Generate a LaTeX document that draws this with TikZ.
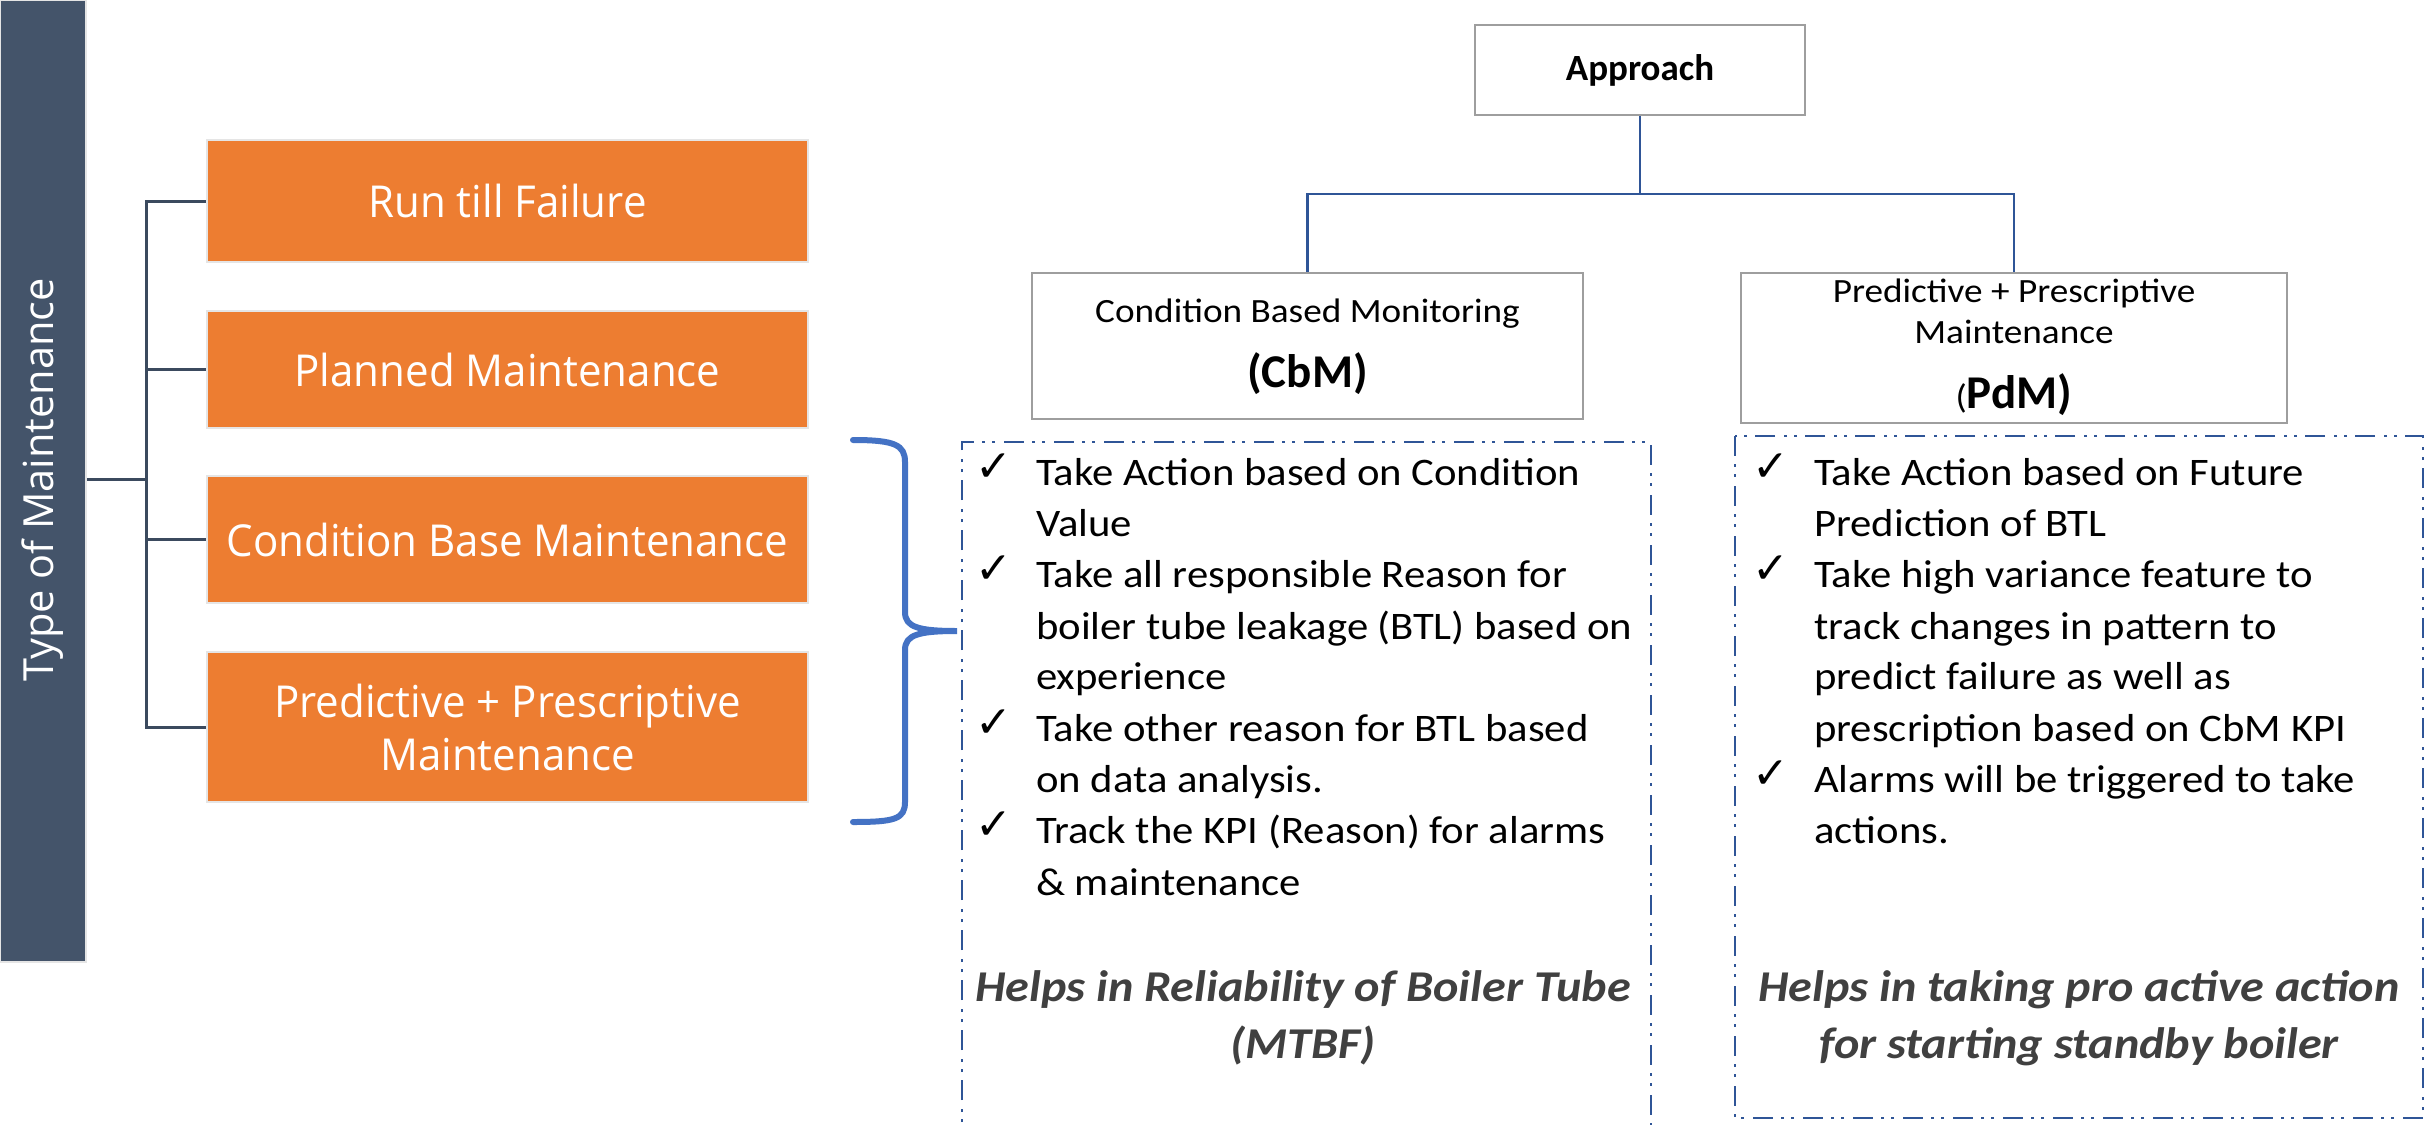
\documentclass[tikz,border=0pt]{standalone}
\usepackage{fontspec}
\setmainfont{Carlito}[FakeStretch=1.095]
\newfontfamily\plainfont{Carlito}
\newfontfamily\segfont{Open Sans}[FakeStretch=0.955]
\newfontfamily\barfont{Open Sans}
\newfontfamily\symfont{DejaVu Sans}
\usetikzlibrary{calc}
\definecolor{barcol}{HTML}{44546A}
\definecolor{orng}{HTML}{ED7D31}
\definecolor{bluec}{HTML}{2F5597}
\definecolor{bracec}{HTML}{4472C4}
\definecolor{italc}{HTML}{404040}
\definecolor{treec}{HTML}{3B4A5E}
\tikzset{
  obox/.style={fill=orng, draw=black!10, line width=2.5pt, minimum width=601pt, text=white,
    font=\segfont\fontsize{44}{53}\selectfont, align=center, inner sep=0pt},
  gbox/.style={draw=black!38, line width=2.5pt, fill=white, inner sep=0pt},
  tree/.style={draw=treec, line width=3pt},
  conn/.style={draw=bluec, line width=2.8pt},
  ddbox/.style={draw=bluec, line width=2.5pt, dash pattern=on 20pt off 8pt on 3pt off 7pt on 3pt off 9pt},
  btxt/.style={anchor=base west, inner sep=0pt, font=\fontsize{39}{51}\selectfont},
  chk/.style={anchor=base west, inner sep=0pt, font=\symfont\bfseries\fontsize{44}{44}\selectfont},
  itx/.style={anchor=base, inner sep=0pt, text=italc, font=\bfseries\itshape\fontsize{44}{58}\selectfont},
  htxt/.style={anchor=base, inner sep=0pt, font=\fontsize{34}{41}\selectfont},
  hbig/.style={anchor=base, inner sep=0pt, font=\plainfont\bfseries\fontsize{47}{47}\selectfont},
}
\begin{document}
\begin{tikzpicture}[x=1pt, y=-1pt]
\useasboundingbox (0,0) rectangle (2432,1124);
\fill[white] (0,0) rectangle (2432,1124);

% left bar
\node[fill=barcol, draw=black!10, line width=2pt, minimum width=86pt, minimum height=962pt, inner sep=0pt] (bar) at (43,481) {};
\node[rotate=90, text=white, inner sep=0pt, font=\barfont\fontsize{41.5}{42}\selectfont] (bartext) at (43,480) {Type of Maintenance};

% orange boxes
\node[obox, minimum height=122pt] (rtf) at (507.5,201) {Run till Failure};
\node[obox, minimum height=117pt] (pm) at (507.5,369.5) {Planned Maintenance};
\node[obox, minimum height=127pt] (cbmx) at (507.5,539.5) {Condition Base Maintenance};
\node[obox, minimum height=150pt] (ppm) at (507.5,727) {Predictive + Prescriptive\\Maintenance};

% tree
\coordinate (trunk) at (146,479);
\draw[tree] (bar.east |- trunk) -- (trunk);
\draw[tree] (rtf.west) -- (rtf.west -| trunk) -- (ppm.west -| trunk) -- (ppm.west);
\draw[tree] (pm.west) -- (pm.west -| trunk);
\draw[tree] (cbmx.west) -- (cbmx.west -| trunk);

% brace
\draw[draw=bracec, line width=6pt, line cap=round]
  (853,440) .. controls (895,440) and (905,445) .. (905,462)
  -- (905,612) .. controls (905,627) and (918,631) .. (957,631)
  .. controls (918,631) and (905,635) .. (905,650)
  -- (905,802) .. controls (905,819) and (895,822) .. (853,822);

% approach tree
\node[gbox, minimum width=330pt, minimum height=90pt, font=\plainfont\bfseries\fontsize{37}{37}\selectfont] (app) at (1640,70) {Approach};
\node[gbox, minimum width=551pt, minimum height=146pt] (cbm) at (1307.5,346) {};
\node[gbox, minimum width=546pt, minimum height=150pt] (pdm) at (2014,348) {};
\coordinate (bus) at (1640,194);
\draw[conn] (app.south) -- (bus);
\draw[conn] (cbm.north) |- (bus) -| (pdm.north);

\node[htxt] (cbm1) at (1307.5,322) {Condition Based Monitoring};
\node[hbig] (cbm2) at (1307.5,387) {(CbM)};
\node[htxt] (pdm1) at (2014,302) {Predictive + Prescriptive};
\node[htxt] (pdm2) at (2014,343) {Maintenance};
\node[anchor=base, inner sep=0pt] (pdm3) at (2014,408) {\fontsize{34}{34}\selectfont(\plainfont\bfseries\fontsize{47}{47}\selectfont PdM)};

% dash-dot boxes
\draw[ddbox] (962,1150) -- (962,442) -- (1651,442) -- (1651,1150);
\draw[ddbox] (1735,436) rectangle (2423,1118);

% left list
\node[chk] (lc1) at (975,481) {✓};
\node[btxt] (l1) at (1036,485) {Take Action based on Condition};
\node[btxt] (l2) at (1036,536) {Value};
\node[chk] (lc2) at (975,583) {✓};
\node[btxt] (l3) at (1036,587) {Take all responsible Reason for};
\node[btxt] (l4) at (1036,639) {boiler tube leakage (BTL) based on};
\node[btxt] (l5) at (1036,689) {experience};
\node[chk] (lc3) at (975,737) {✓};
\node[btxt] (l6) at (1036,741) {Take other reason for BTL based};
\node[btxt] (l7) at (1036,792) {on data analysis.};
\node[chk] (lc4) at (975,839) {✓};
\node[btxt] (l8) at (1036,843) {Track the KPI (Reason) for alarms};
\node[btxt] (l9) at (1036,895) {\& maintenance};
\node[itx] (li1) at (1303,1001) {Helps in Reliability of Boiler Tube};
\node[itx] (li2) at (1303,1058) {(MTBF)};

% right list
\node[chk] (rc1) at (1752,481) {✓};
\node[btxt] (r1) at (1814,485) {Take Action based on Future};
\node[btxt] (r2) at (1814,536) {Prediction of BTL};
\node[chk] (rc2) at (1752,583) {✓};
\node[btxt] (r3) at (1814,587) {Take high variance feature to};
\node[btxt] (r4) at (1814,639) {track changes in pattern to};
\node[btxt] (r5) at (1814,689) {predict failure as well as};
\node[btxt] (r6) at (1814,741) {prescription based on CbM KPI};
\node[chk] (rc3) at (1752,788) {✓};
\node[btxt] (r7) at (1814,792) {Alarms will be triggered to take};
\node[btxt] (r8) at (1814,843) {actions.};
\node[itx] (ri1) at (2079,1001) {Helps in taking pro active action};
\node[itx] (ri2) at (2079,1058) {for starting standby boiler};
\end{tikzpicture}
\end{document}
